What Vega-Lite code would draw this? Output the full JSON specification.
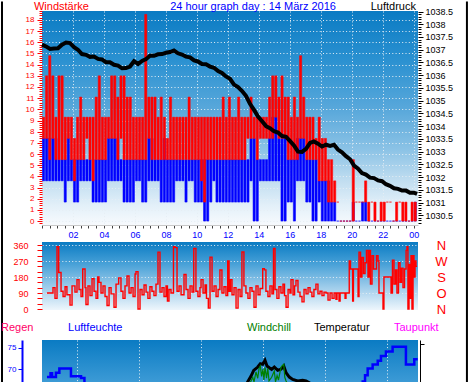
{
"$schema":"https://vega.github.io/schema/vega-lite/v6.json",
"padding":0,
"background":"#ffffff",
"spacing":17,
"bounds":"flush",
"resolve":{"scale":{"x":"independent","y":"independent"}},
"config":{"view":{"stroke":null},"font":"Liberation Sans","axis":{"labelFont":"Liberation Sans","titleFont":"Liberation Sans","labelOverlap":false,"labelFlush":false,"labelBound":false}},
"datasets":{
"wind":[
{"t":0.1,"rl":7.4,"rh":9.3,"bl":3.6,"bh":7.4},{"t":0.3,"rl":7.4,"rh":13,"bl":3.6,"bh":7.4},{"t":0.5,"rl":5.5,"rh":14.8,"bl":3.6,"bh":7.4},{"t":0.7,"rl":7.4,"rh":13,"bl":3.6,"bh":7.4},{"t":0.9,"rl":5.5,"rh":9.3,"bl":3.6,"bh":7.4},{"t":1.1,"rl":5.5,"rh":13,"bl":3.6,"bh":5.5},{"t":1.3,"rl":5.5,"rh":13,"bl":3.6,"bh":5.5},{"t":1.5,"rl":5.5,"rh":9.3,"bl":1.7,"bh":5.5},{"t":1.7,"rl":7.4,"rh":9.3,"bl":3.6,"bh":7.4},{"t":1.9,"rl":5.5,"rh":9.3,"bl":3.6,"bh":5.5},
{"t":2.1,"rl":3.6,"rh":7.4,"bl":1.7,"bh":5.5},{"t":2.3,"rl":5.5,"rh":9.3,"bl":1.7,"bh":5.5},{"t":2.5,"rl":5.5,"rh":11.1,"bl":3.6,"bh":5.5},{"t":2.7,"rl":5.5,"rh":9.3,"bl":3.6,"bh":5.5},{"t":2.9,"rl":7.4,"rh":9.3,"bl":3.6,"bh":5.5},{"t":3.1,"rl":5.5,"rh":9.3,"bl":3.6,"bh":5.5},{"t":3.3,"rl":3.6,"rh":9.3,"bl":1.7,"bh":5.5},{"t":3.5,"rl":5.5,"rh":11.1,"bl":1.7,"bh":5.5},{"t":3.7,"rl":5.5,"rh":13,"bl":1.7,"bh":5.5},{"t":3.9,"rl":5.5,"rh":9.3,"bl":1.7,"bh":5.5},
{"t":4.1,"rl":5.5,"rh":9.3,"bl":1.7,"bh":5.5},{"t":4.3,"rl":7.4,"rh":9.3,"bl":3.6,"bh":7.4},{"t":4.5,"rl":7.4,"rh":13,"bl":3.6,"bh":7.4},{"t":4.7,"rl":7.4,"rh":13,"bl":3.6,"bh":7.4},{"t":4.9,"rl":5.5,"rh":11.1,"bl":3.6,"bh":7.4},{"t":5.1,"rl":7.4,"rh":13,"bl":3.6,"bh":5.5},{"t":5.3,"rl":5.5,"rh":13,"bl":1.7,"bh":5.5},{"t":5.5,"rl":5.5,"rh":11.1,"bl":1.7,"bh":5.5},{"t":5.7,"rl":5.5,"rh":11.1,"bl":1.7,"bh":5.5},{"t":5.9,"rl":5.5,"rh":9.3,"bl":1.7,"bh":5.5},
{"t":6.1,"rl":5.5,"rh":9.3,"bl":3.6,"bh":5.5},{"t":6.3,"rl":5.5,"rh":9.3,"bl":3.6,"bh":5.5},{"t":6.5,"rl":5.5,"rh":9.3,"bl":1.7,"bh":5.5},{"t":6.7,"rl":5.5,"rh":18.5,"bl":1.7,"bh":5.5},{"t":6.9,"rl":7.4,"rh":11.1,"bl":3.6,"bh":7.4},{"t":7.1,"rl":5.5,"rh":11.1,"bl":3.6,"bh":7.4},{"t":7.3,"rl":5.5,"rh":11.1,"bl":3.6,"bh":5.5},{"t":7.5,"rl":5.5,"rh":9.3,"bl":3.6,"bh":5.5},{"t":7.7,"rl":5.5,"rh":11.1,"bl":1.7,"bh":5.5},{"t":7.9,"rl":5.5,"rh":9.3,"bl":1.7,"bh":7.4},
{"t":8.1,"rl":5.5,"rh":7.4,"bl":1.7,"bh":5.5},{"t":8.3,"rl":5.5,"rh":11.1,"bl":1.7,"bh":5.5},{"t":8.5,"rl":5.5,"rh":9.3,"bl":1.7,"bh":5.5},{"t":8.7,"rl":5.5,"rh":9.3,"bl":3.6,"bh":5.5},{"t":8.9,"rl":5.5,"rh":9.3,"bl":3.6,"bh":5.5},{"t":9.1,"rl":5.5,"rh":9.3,"bl":3.6,"bh":5.5},{"t":9.3,"rl":5.5,"rh":9.3,"bl":1.7,"bh":5.5},{"t":9.5,"rl":5.5,"rh":11.1,"bl":3.6,"bh":5.5},{"t":9.7,"rl":5.5,"rh":9.3,"bl":3.6,"bh":5.5},{"t":9.9,"rl":5.5,"rh":9.3,"bl":1.7,"bh":5.5},
{"t":10.1,"rl":5.5,"rh":9.3,"bl":1.7,"bh":5.5},{"t":10.3,"rl":3.6,"rh":9.3,"bl":1.7,"bh":5.5},{"t":10.5,"rl":1.7,"rh":9.3,"bl":0,"bh":5.5},{"t":10.7,"rl":5.5,"rh":9.3,"bl":0,"bh":5.5},{"t":10.9,"rl":5.5,"rh":9.3,"bl":1.7,"bh":5.5},{"t":11.1,"rl":5.5,"rh":9.3,"bl":3.6,"bh":5.5},{"t":11.3,"rl":5.5,"rh":9.3,"bl":1.7,"bh":5.5},{"t":11.5,"rl":5.5,"rh":9.3,"bl":1.7,"bh":5.5},{"t":11.7,"rl":5.5,"rh":11.1,"bl":1.7,"bh":5.5},{"t":11.9,"rl":5.5,"rh":9.3,"bl":1.7,"bh":5.5},
{"t":12.1,"rl":5.5,"rh":11.1,"bl":1.7,"bh":5.5},{"t":12.3,"rl":5.5,"rh":9.3,"bl":1.7,"bh":5.5},{"t":12.5,"rl":5.5,"rh":9.3,"bl":1.7,"bh":5.5},{"t":12.7,"rl":5.5,"rh":11.1,"bl":1.7,"bh":5.5},{"t":12.9,"rl":5.5,"rh":9.3,"bl":1.7,"bh":5.5},{"t":13.1,"rl":5.5,"rh":9.3,"bl":1.7,"bh":5.5},{"t":13.3,"rl":7.4,"rh":9.3,"bl":1.7,"bh":5.5},{"t":13.5,"rl":7.4,"rh":11.1,"bl":3.6,"bh":7.4},{"t":13.7,"rl":7.4,"rh":9.3,"bl":0,"bh":7.4},{"t":13.9,"rl":5.5,"rh":9.3,"bl":0,"bh":5.5},
{"t":14.1,"rl":7.4,"rh":9.3,"bl":3.6,"bh":5.5},{"t":14.3,"rl":7.4,"rh":9.3,"bl":3.6,"bh":5.5},{"t":14.5,"rl":7.4,"rh":9.3,"bl":3.6,"bh":5.5},{"t":14.7,"rl":7.4,"rh":11.1,"bl":3.6,"bh":7.4},{"t":14.9,"rl":7.4,"rh":13,"bl":3.6,"bh":9.3},{"t":15.1,"rl":9.3,"rh":13,"bl":3.6,"bh":9.3},{"t":15.3,"rl":7.4,"rh":11.1,"bl":3.6,"bh":7.4},{"t":15.5,"rl":7.4,"rh":13,"bl":0,"bh":7.4},{"t":15.7,"rl":7.4,"rh":11.1,"bl":0,"bh":7.4},{"t":15.9,"rl":5.5,"rh":11.1,"bl":1.7,"bh":5.5},
{"t":16.1,"rl":5.5,"rh":9.3,"bl":1.7,"bh":5.5},{"t":16.3,"rl":5.5,"rh":11.1,"bl":0,"bh":5.5},{"t":16.5,"rl":5.5,"rh":9.3,"bl":3.6,"bh":7.4},{"t":16.7,"rl":7.4,"rh":14.8,"bl":3.6,"bh":7.4},{"t":16.9,"rl":7.4,"rh":11.1,"bl":3.6,"bh":7.4},{"t":17.1,"rl":5.5,"rh":9.3,"bl":1.7,"bh":5.5},{"t":17.3,"rl":5.5,"rh":9.3,"bl":1.7,"bh":5.5},{"t":17.5,"rl":5.5,"rh":9.3,"bl":0,"bh":5.5},{"t":17.7,"rl":5.5,"rh":7.4,"bl":0,"bh":5.5},{"t":17.9,"rl":3.6,"rh":9.3,"bl":1.7,"bh":3.6},
{"t":18.1,"rl":3.6,"rh":7.4,"bl":0,"bh":3.6},{"t":18.3,"rl":3.6,"rh":7.4,"bl":0,"bh":3.6},{"t":18.5,"rl":1.7,"rh":5.5,"bl":0,"bh":3.6},{"t":18.7,"rl":1.7,"rh":5.5,"bl":0,"bh":1.7},{"t":18.9,"rl":1.7,"rh":3.6,"bl":0,"bh":1.7},{"t":19.1,"rl":1.7,"rh":1.7,"bl":0,"bh":0},{"t":19.3,"rl":0,"rh":0,"bl":0,"bh":0},{"t":19.5,"rl":0,"rh":0,"bl":0,"bh":0},{"t":19.7,"rl":0,"rh":0,"bl":0,"bh":0},{"t":19.9,"rl":0,"rh":0,"bl":0,"bh":0},
{"t":20.1,"rl":0,"rh":5.5,"bl":0,"bh":1.7},{"t":20.3,"rl":1.7,"rh":1.7,"bl":0,"bh":0},{"t":20.5,"rl":1.7,"rh":1.7,"bl":0,"bh":0},{"t":20.7,"rl":1.7,"rh":1.7,"bl":0,"bh":1.7},{"t":20.9,"rl":1.7,"rh":3.6,"bl":0,"bh":1.7},{"t":21.1,"rl":0,"rh":1.7,"bl":0,"bh":0},{"t":21.3,"rl":1.7,"rh":1.7,"bl":0,"bh":0},{"t":21.5,"rl":0,"rh":1.7,"bl":0,"bh":0},{"t":21.7,"rl":0,"rh":0,"bl":0,"bh":0},{"t":21.9,"rl":0,"rh":1.7,"bl":0,"bh":0},
{"t":22.1,"rl":0,"rh":1.7,"bl":0,"bh":0},{"t":22.3,"rl":1.7,"rh":1.7,"bl":0,"bh":0},{"t":22.5,"rl":1.7,"rh":1.7,"bl":0,"bh":0},{"t":22.7,"rl":0,"rh":0,"bl":0,"bh":0},{"t":22.9,"rl":0,"rh":1.7,"bl":0,"bh":0},{"t":23.1,"rl":1.7,"rh":1.7,"bl":0,"bh":0},{"t":23.3,"rl":0,"rh":1.7,"bl":0,"bh":0},{"t":23.5,"rl":0,"rh":1.7,"bl":0,"bh":0},{"t":23.7,"rl":0,"rh":0,"bl":0,"bh":0},{"t":23.9,"rl":0,"rh":1.7,"bl":0,"bh":0},
{"t":24.1,"rl":0,"rh":1.7,"bl":0,"bh":1.7}
],
"pres":[
{"t":0,"p":1037.2},{"t":0.26,"p":1037.13},{"t":0.52,"p":1037.03},{"t":0.77,"p":1037.05},{"t":1.03,"p":1037.06},{"t":1.29,"p":1037.2},{"t":1.55,"p":1037.28},{"t":1.81,"p":1037.26},{"t":2.07,"p":1037.1},{"t":2.32,"p":1037.0},
{"t":2.58,"p":1036.83},{"t":2.84,"p":1036.8},{"t":3.1,"p":1036.72},{"t":3.36,"p":1036.73},{"t":3.62,"p":1036.64},{"t":3.87,"p":1036.62},{"t":4.13,"p":1036.51},{"t":4.39,"p":1036.51},{"t":4.65,"p":1036.41},{"t":4.91,"p":1036.38},
{"t":5.17,"p":1036.27},{"t":5.42,"p":1036.28},{"t":5.68,"p":1036.34},{"t":5.94,"p":1036.55},{"t":6.2,"p":1036.44},{"t":6.46,"p":1036.56},{"t":6.72,"p":1036.63},{"t":6.97,"p":1036.76},{"t":7.23,"p":1036.76},{"t":7.49,"p":1036.82},
{"t":7.75,"p":1036.83},{"t":8.01,"p":1036.88},{"t":8.27,"p":1036.91},{"t":8.52,"p":1036.97},{"t":8.78,"p":1036.86},{"t":9.04,"p":1036.81},{"t":9.3,"p":1036.73},{"t":9.56,"p":1036.7},{"t":9.82,"p":1036.58},{"t":10.07,"p":1036.54},
{"t":10.33,"p":1036.44},{"t":10.59,"p":1036.43},{"t":10.85,"p":1036.34},{"t":11.11,"p":1036.29},{"t":11.37,"p":1036.16},{"t":11.62,"p":1036.09},{"t":11.88,"p":1035.95},{"t":12.14,"p":1035.86},{"t":12.4,"p":1035.63},{"t":12.66,"p":1035.53},
{"t":12.92,"p":1035.38},{"t":13.17,"p":1035.19},{"t":13.43,"p":1034.88},{"t":13.69,"p":1034.64},{"t":13.95,"p":1034.38},{"t":14.21,"p":1034.19},{"t":14.47,"p":1034.0},{"t":14.72,"p":1033.92},{"t":14.98,"p":1033.8},{"t":15.24,"p":1033.75},
{"t":15.5,"p":1033.61},{"t":15.76,"p":1033.58},{"t":16.02,"p":1033.41},{"t":16.27,"p":1033.24},{"t":16.53,"p":1033.0},{"t":16.79,"p":1032.99},{"t":17.05,"p":1033.11},{"t":17.31,"p":1033.34},{"t":17.56,"p":1033.4},{"t":17.82,"p":1033.31},
{"t":18.08,"p":1033.2},{"t":18.34,"p":1033.27},{"t":18.6,"p":1033.22},{"t":18.86,"p":1033.27},{"t":19.11,"p":1033.08},{"t":19.37,"p":1032.97},{"t":19.63,"p":1032.82},{"t":19.89,"p":1032.7},{"t":20.15,"p":1032.45},{"t":20.41,"p":1032.33},
{"t":20.66,"p":1032.16},{"t":20.92,"p":1032.1},{"t":21.18,"p":1031.98},{"t":21.44,"p":1031.96},{"t":21.7,"p":1031.87},{"t":21.96,"p":1031.84},{"t":22.21,"p":1031.72},{"t":22.47,"p":1031.66},{"t":22.73,"p":1031.56},{"t":22.99,"p":1031.54},
{"t":23.25,"p":1031.47},{"t":23.51,"p":1031.47},{"t":23.76,"p":1031.39},{"t":24.02,"p":1031.39},{"t":24.22,"p":1031.34}
],
"dir":[
{"t":0.32,"d":90},{"t":0.52,"d":90},{"t":0.71,"d":120},{"t":0.84,"d":60},{"t":0.97,"d":350},{"t":1.08,"d":205},{"t":1.23,"d":100},{"t":1.36,"d":70},{"t":1.49,"d":125},{"t":1.61,"d":80},
{"t":1.81,"d":22},{"t":1.94,"d":130},{"t":2.13,"d":95},{"t":2.26,"d":165},{"t":2.39,"d":110},{"t":2.52,"d":70},{"t":2.63,"d":225},{"t":2.78,"d":120},{"t":2.84,"d":25},{"t":2.97,"d":130},
{"t":3.1,"d":75},{"t":3.23,"d":170},{"t":3.36,"d":100},{"t":3.49,"d":60},{"t":3.6,"d":180},{"t":3.68,"d":150},{"t":3.81,"d":90},{"t":3.94,"d":130},{"t":4.07,"d":70},{"t":4.2,"d":20},
{"t":4.33,"d":120},{"t":4.46,"d":85},{"t":4.65,"d":10},{"t":4.78,"d":140},{"t":4.95,"d":175},{"t":5.1,"d":100},{"t":5.23,"d":60},{"t":5.36,"d":130},{"t":5.49,"d":186},{"t":5.62,"d":90},
{"t":5.75,"d":120},{"t":5.88,"d":70},{"t":6.01,"d":197},{"t":6.07,"d":210},{"t":6.2,"d":0},{"t":6.33,"d":110},{"t":6.46,"d":80},{"t":6.59,"d":135},{"t":6.72,"d":95},{"t":6.84,"d":60},
{"t":6.97,"d":125},{"t":7.1,"d":100},{"t":7.23,"d":75},{"t":7.36,"d":140},{"t":7.49,"d":320},{"t":7.62,"d":95},{"t":7.75,"d":120},{"t":7.88,"d":70},{"t":8.01,"d":130},{"t":8.1,"d":45},
{"t":8.2,"d":110},{"t":8.33,"d":90},{"t":8.49,"d":350},{"t":8.59,"d":345},{"t":8.72,"d":100},{"t":8.85,"d":130},{"t":8.98,"d":80},{"t":9.17,"d":194},{"t":9.3,"d":110},{"t":9.43,"d":60},
{"t":9.56,"d":130},{"t":9.69,"d":95},{"t":9.8,"d":340},{"t":9.94,"d":100},{"t":10.07,"d":70},{"t":10.2,"d":120},{"t":10.27,"d":165},{"t":10.4,"d":90},{"t":10.53,"d":135},{"t":10.62,"d":60},
{"t":10.74,"d":5},{"t":10.85,"d":292},{"t":10.98,"d":100},{"t":11.11,"d":130},{"t":11.24,"d":70},{"t":11.37,"d":110},{"t":11.49,"d":219},{"t":11.62,"d":90},{"t":11.75,"d":125},{"t":11.88,"d":75},
{"t":11.99,"d":270},{"t":12.08,"d":100},{"t":12.17,"d":165},{"t":12.27,"d":80},{"t":12.4,"d":120},{"t":12.53,"d":5},{"t":12.66,"d":110},{"t":12.79,"d":70},{"t":12.91,"d":321},{"t":13.04,"d":130},
{"t":13.17,"d":90},{"t":13.3,"d":60},{"t":13.43,"d":120},{"t":13.56,"d":100},{"t":13.69,"d":10},{"t":13.82,"d":130},{"t":13.95,"d":80},{"t":14.08,"d":115},{"t":14.25,"d":227},{"t":14.36,"d":220},
{"t":14.46,"d":100},{"t":14.59,"d":70},{"t":14.72,"d":130},{"t":14.85,"d":85},{"t":14.95,"d":340},{"t":15.05,"d":110},{"t":15.17,"d":60},{"t":15.3,"d":125},{"t":15.43,"d":90},{"t":15.56,"d":140},
{"t":15.66,"d":75},{"t":15.76,"d":10},{"t":15.89,"d":110},{"t":16.01,"d":90},{"t":16.08,"d":165},{"t":16.21,"d":80},{"t":16.31,"d":130},{"t":16.4,"d":160},{"t":16.53,"d":95},{"t":16.66,"d":70},
{"t":16.79,"d":40},{"t":16.92,"d":110},{"t":17.05,"d":85},{"t":17.18,"d":120},{"t":17.31,"d":95},{"t":17.43,"d":70},{"t":17.56,"d":110},{"t":17.69,"d":140},{"t":17.82,"d":85},{"t":17.95,"d":100},
{"t":18.08,"d":75},{"t":18.21,"d":95},{"t":18.34,"d":90},{"t":18.47,"d":50},{"t":18.6,"d":90},{"t":18.73,"d":60},{"t":18.86,"d":90},{"t":18.98,"d":55},{"t":19.05,"d":90},{"t":19.18,"d":45},
{"t":19.25,"d":90},{"t":19.57,"d":60},{"t":19.63,"d":90},{"t":19.84,"d":270},{"t":19.92,"d":225},{"t":20.06,"d":45},{"t":20.11,"d":225},{"t":20.41,"d":70},{"t":20.47,"d":320},{"t":20.57,"d":180},
{"t":20.66,"d":290},{"t":20.76,"d":200},{"t":20.86,"d":260},{"t":20.95,"d":330},{"t":21.05,"d":180},{"t":21.12,"d":330},{"t":21.21,"d":140},{"t":21.31,"d":300},{"t":21.41,"d":225},{"t":21.6,"d":300},
{"t":21.7,"d":270},{"t":21.76,"d":90},{"t":22.02,"d":0},{"t":22.08,"d":180},{"t":22.54,"d":90},{"t":22.63,"d":275},{"t":22.73,"d":140},{"t":22.83,"d":220},{"t":22.92,"d":90},{"t":23.02,"d":260},
{"t":23.12,"d":150},{"t":23.21,"d":230},{"t":23.31,"d":120},{"t":23.41,"d":225},{"t":23.51,"d":330},{"t":23.57,"d":350},{"t":23.63,"d":0},{"t":23.7,"d":250},{"t":23.76,"d":60},{"t":23.83,"d":300},
{"t":23.89,"d":0},{"t":23.96,"d":300},{"t":24.02,"d":180},{"t":24.09,"d":270},{"t":24.15,"d":240},{"t":24.22,"d":240}
],
"hum":[
{"t":0.03,"h":68.2},{"t":0.26,"h":69.1},{"t":0.36,"h":68.2},{"t":0.61,"h":69.2},{"t":0.83,"h":70.2},{"t":1.58,"h":68.4},{"t":2.23,"h":68.0},{"t":2.45,"h":64},{"t":4.81,"h":60},{"t":9.98,"h":52},
{"t":15.14,"h":50},{"t":19.02,"h":58},{"t":20.18,"h":64},{"t":20.42,"h":67.2},{"t":20.57,"h":68.6},{"t":20.74,"h":70.2},{"t":21.06,"h":71.1},{"t":21.39,"h":72.0},{"t":21.6,"h":73.1},{"t":21.92,"h":74.1},
{"t":22.35,"h":75.2},{"t":23.21,"h":71.1},{"t":23.75,"h":72.3},{"t":23.97,"h":72.3}
],
"temp":[
{"t":-0.29,"v":3.0},{"t":6.75,"v":5.0},{"t":11.91,"v":6.0},{"t":12.82,"v":6.5},{"t":12.95,"v":6.67},{"t":13.21,"v":7.44},{"t":13.38,"v":8.07},{"t":13.64,"v":8.44},{"t":13.81,"v":8.81},{"t":13.96,"v":8.74},
{"t":14.11,"v":9.19},{"t":14.24,"v":8.56},{"t":14.39,"v":8.37},{"t":14.54,"v":8.19},{"t":14.71,"v":8.44},{"t":14.93,"v":8.07},{"t":15.14,"v":8.19},{"t":15.32,"v":8.56},{"t":15.47,"v":7.81},{"t":15.68,"v":7.33},
{"t":15.9,"v":7.07},{"t":16.22,"v":6.89},{"t":16.54,"v":6.96},{"t":16.76,"v":6.89},{"t":16.97,"v":6.7},{"t":17.21,"v":6.4},{"t":19.02,"v":5.5},{"t":23.92,"v":4.0}
],
"chill":[
{"t":12.95,"v":6.0},{"t":13.21,"v":6.9},{"t":13.32,"v":7.3},{"t":13.4,"v":6.8},{"t":13.53,"v":7.9},{"t":13.64,"v":7.2},{"t":13.73,"v":8.3},{"t":13.81,"v":8.56},{"t":13.89,"v":7.4},{"t":13.98,"v":8.2},
{"t":14.04,"v":7.0},{"t":14.11,"v":8.4},{"t":14.21,"v":7.2},{"t":14.29,"v":8.3},{"t":14.37,"v":6.9},{"t":14.54,"v":7.3},{"t":14.71,"v":8.0},{"t":14.79,"v":6.8},{"t":14.89,"v":7.5},{"t":14.98,"v":7.0},
{"t":15.08,"v":7.9},{"t":15.17,"v":8.5},{"t":15.32,"v":8.74},{"t":15.39,"v":7.3},{"t":15.47,"v":6.9},{"t":15.56,"v":6.6},{"t":15.8,"v":6.0}
]
},
"vconcat":[
{
"width":376,"height":214,
"view":{"fill":{"gradient":"linear","x1":0,"y1":0,"x2":0,"y2":1,"stops":[{"offset":0,"color":"#0a7bc3"},{"offset":0.23,"color":"#2b91d1"},{"offset":0.47,"color":"#5ba9db"},{"offset":0.65,"color":"#8cc3e6"},{"offset":0.79,"color":"#c0ddf0"},{"offset":0.91,"color":"#e3f0f9"},{"offset":1,"color":"#f7fafd"}]},"stroke":null},
"layer":[
{"layer":[
{"data":{"name":"wind"},
"mark":{"type":"bar","width":2.2,"color":"#0000ff","stroke":"#0000ff","strokeWidth":0.5},
"encoding":{
"x":{"field":"t","type":"quantitative","scale":{"domain":[0,24.28],"nice":false,"zero":false,"padding":0},
"axis":{"orient":"bottom","title":null,"tickCount":48,"domain":true,"domainColor":"#c8c8c8","tickColor":"#404040","tickSize":3,"labelColor":"#0000ff","labelFontSize":9,"labelPadding":2,
"labelExpr":"datum.value > 0 && datum.value % 2 == 0 ? ((datum.value % 24) < 10 ? '0' : '') + (datum.value % 24) : ''",
"grid":true,"gridColor":"#e6eef4","gridDash":[1,2.3],"gridOpacity":{"condition":{"test":"datum.value > 0 && datum.value % 2 == 0","value":1},"value":0}}},
"y":{"field":"bl","type":"quantitative","scale":{"domain":[-0.35,18.8],"nice":false,"zero":false,"padding":0},
"axis":{"orient":"left","title":null,"tickCount":96,"domain":false,"tickColor":"#ff0000",
"tickSize":{"condition":{"test":"abs(datum.value - round(datum.value)) < 0.01","value":5},"value":3},
"labelColor":"#ff0000","labelFontSize":8,"labelPadding":3,
"labelExpr":"abs(datum.value - round(datum.value)) < 0.01 && datum.value >= 0 ? '' + round(datum.value) : ''",
"grid":true,"gridColor":"#e6eef4","gridDash":[1,2.3],"gridOpacity":{"condition":{"test":"abs(datum.value - round(datum.value)) < 0.01 && datum.value >= 0","value":1},"value":0}}},
"y2":{"field":"bh"}
}},
{"data":{"name":"wind"},
"mark":{"type":"bar","width":2.2,"color":"#ff0000","stroke":"#ff0000","strokeWidth":0.5},
"encoding":{
"x":{"field":"t","type":"quantitative","scale":{"domain":[0,24.28],"nice":false,"zero":false,"padding":0}},
"y":{"field":"rl","type":"quantitative","scale":{"domain":[-0.35,18.8],"nice":false,"zero":false,"padding":0}},
"y2":{"field":"rh"}
}},
{"data":{"values":[{}]},
"mark":{"type":"text","align":"left","baseline":"alphabetic","fontSize":11,"font":"Liberation Sans","color":"#ff0000"},
"encoding":{"x":{"datum":-0.52,"type":"quantitative","scale":{"domain":[0,24.28],"nice":false,"zero":false,"padding":0}},"y":{"datum":18.89,"type":"quantitative","scale":{"domain":[-0.35,18.8],"nice":false,"zero":false,"padding":0}},"text":{"value":"Windstärke"}}},
{"data":{"values":[{}]},
"mark":{"type":"text","align":"center","baseline":"alphabetic","fontSize":11,"font":"Liberation Sans","color":"#0000ff"},
"encoding":{"x":{"datum":13.63,"type":"quantitative","scale":{"domain":[0,24.28],"nice":false,"zero":false,"padding":0}},"y":{"datum":18.89,"type":"quantitative","scale":{"domain":[-0.35,18.8],"nice":false,"zero":false,"padding":0}},"text":{"value":"24 hour graph day : 14 März 2016"}}},
{"data":{"values":[{}]},
"mark":{"type":"text","align":"right","baseline":"alphabetic","fontSize":11,"font":"Liberation Sans","color":"#000000"},
"encoding":{"x":{"datum":24.15,"type":"quantitative","scale":{"domain":[0,24.28],"nice":false,"zero":false,"padding":0}},"y":{"datum":18.89,"type":"quantitative","scale":{"domain":[-0.35,18.8],"nice":false,"zero":false,"padding":0}},"text":{"value":"Luftdruck"}}},
{"data":{"values":[{}]},
"mark":{"type":"rule","color":"#000000","strokeWidth":2},
"encoding":{"x":{"datum":-2.583,"type":"quantitative","scale":{"domain":[0,24.28],"nice":false,"zero":false,"padding":0}},"y":{"datum":19.65,"type":"quantitative","scale":{"domain":[-0.35,18.8],"nice":false,"zero":false,"padding":0}},"y2":{"datum":-14.4}}},
{"data":{"values":[{}]},
"mark":{"type":"rule","color":"#000000","strokeWidth":2},
"encoding":{"x":{"datum":27.44,"type":"quantitative","scale":{"domain":[0,24.28],"nice":false,"zero":false,"padding":0}},"y":{"datum":19.65,"type":"quantitative","scale":{"domain":[-0.35,18.8],"nice":false,"zero":false,"padding":0}},"y2":{"datum":-14.4}}}
]},
{"data":{"name":"pres"},
"mark":{"type":"line","color":"#000000","strokeWidth":4},
"encoding":{
"x":{"field":"t","type":"quantitative","scale":{"domain":[0,24.28],"nice":false,"zero":false,"padding":0}},
"y":{"field":"p","type":"quantitative","scale":{"domain":[1030.12,1038.52],"nice":false,"zero":false},
"axis":{"orient":"right","title":null,"tickCount":84,"domain":false,"tickColor":"#000000",
"tickSize":{"condition":{"test":"abs(datum.value*2 - round(datum.value*2)) < 0.01","value":5},"value":3},
"labelColor":"#000000","labelFontSize":9,"labelPadding":2,
"labelExpr":"abs(datum.value*2 - round(datum.value*2)) < 0.01 ? '' + round(datum.value*10)/10 : ''","grid":false}}
}}
],
"resolve":{"scale":{"y":"independent"}}
},
{
"width":376,"height":81,
"view":{"fill":{"gradient":"linear","x1":0,"y1":0,"x2":0,"y2":1,"stops":[{"offset":0,"color":"#0a7bc3"},{"offset":0.28,"color":"#4aa2d8"},{"offset":0.55,"color":"#9ccbea"},{"offset":0.8395,"color":"#eef6fc"},{"offset":0.84,"color":"#ffffff"},{"offset":1,"color":"#ffffff"}]},"stroke":null},
"layer":[
{"data":{"name":"dir"},
"mark":{"type":"line","interpolate":"step-after","color":"#ff0000","strokeWidth":1.4},
"encoding":{
"x":{"field":"t","type":"quantitative","scale":{"domain":[0,24.28],"nice":false,"zero":false},"axis":null},
"y":{"field":"d","type":"quantitative","scale":{"domain":[-78.75,376.9],"nice":false,"zero":false},
"axis":{"orient":"left","title":null,"values":[0,30,60,90,120,150,180,210,240,270,300,330,360],"domain":false,"tickColor":"#ff0000","tickSize":5,
"labelColor":"#ff0000","labelFontSize":9,"labelPadding":9,
"labelExpr":"datum.value % 90 == 0 ? datum.label : ''",
"grid":true,"gridColor":"#e6eef4","gridDash":[1,2.3],"gridOpacity":{"condition":{"test":"datum.value > 0 && datum.value % 90 == 0","value":1},"value":0}}}
}},
{"data":{"name":"dir"},
"mark":{"type":"line","interpolate":"step-after","color":"#ff0000","strokeWidth":1.4,"opacity":0},
"encoding":{
"x":{"field":"t","type":"quantitative","scale":{"domain":[0,24.28],"nice":false,"zero":false},"axis":null},
"y":{"field":"d","type":"quantitative","scale":{"domain":[-78.75,376.9],"nice":false,"zero":false},
"axis":{"orient":"right","title":null,"values":[0,90,180,270,360],"domain":false,"ticks":false,
"labelColor":"#ff0000","labelFontSize":13,"labelAlign":"center","labelPadding":23,
"labelExpr":"['N','O','S','W','N'][round(datum.value/90)]","grid":false}}
}}
],
"resolve":{"axis":{"y":"independent"}}
},
{
"width":376,"height":43,
"view":{"fill":{"gradient":"linear","x1":0,"y1":0,"x2":0,"y2":1,"stops":[{"offset":0,"color":"#0a7bc3"},{"offset":1,"color":"#3d9bd6"}]},"stroke":null},
"layer":[
{"layer":[
{"data":{"name":"hum"},
"mark":{"type":"line","interpolate":"step-after","color":"#0000ff","strokeWidth":2.5,"clip":true},
"encoding":{
"x":{"field":"t","type":"quantitative","scale":{"domain":[-0.29,23.99],"nice":false,"zero":false},
"axis":{"orient":"bottom","title":null,"values":[2,4,6,8,10,12,14,16,18,20,22],"labels":false,"ticks":false,"domain":false,"grid":true,"gridColor":"#e6eef4","gridDash":[1,2.3]}},
"y":{"field":"h","type":"quantitative","scale":{"domain":[66.83,76.78],"nice":false,"zero":false},
"axis":{"orient":"left","title":null,"values":[70,75],"offset":20,"domain":true,"domainColor":"#0000ff","domainWidth":2,"tickColor":"#0000ff","tickSize":4,"labelColor":"#0000ff","labelFontSize":8,"labelPadding":2,"grid":false}}
}},
{"data":{"values":[{}]},
"mark":{"type":"text","align":"left","baseline":"alphabetic","fontSize":11,"font":"Liberation Sans","color":"#ff0066"},
"encoding":{"x":{"datum":-2.94,"type":"quantitative","scale":{"domain":[-0.29,23.99],"nice":false,"zero":false}},"y":{"datum":78.75,"type":"quantitative","scale":{"domain":[66.83,76.78],"nice":false,"zero":false}},"text":{"value":"Regen"}}},
{"data":{"values":[{}]},
"mark":{"type":"text","align":"left","baseline":"alphabetic","fontSize":11,"font":"Liberation Sans","color":"#0000ff"},
"encoding":{"x":{"datum":1.39,"type":"quantitative","scale":{"domain":[-0.29,23.99],"nice":false,"zero":false}},"y":{"datum":78.75,"type":"quantitative","scale":{"domain":[66.83,76.78],"nice":false,"zero":false}},"text":{"value":"Luftfeuchte"}}},
{"data":{"values":[{}]},
"mark":{"type":"text","align":"left","baseline":"alphabetic","fontSize":11,"font":"Liberation Sans","color":"#008000"},
"encoding":{"x":{"datum":12.95,"type":"quantitative","scale":{"domain":[-0.29,23.99],"nice":false,"zero":false}},"y":{"datum":78.75,"type":"quantitative","scale":{"domain":[66.83,76.78],"nice":false,"zero":false}},"text":{"value":"Windchill"}}},
{"data":{"values":[{}]},
"mark":{"type":"text","align":"left","baseline":"alphabetic","fontSize":11,"font":"Liberation Sans","color":"#000000"},
"encoding":{"x":{"datum":17.27,"type":"quantitative","scale":{"domain":[-0.29,23.99],"nice":false,"zero":false}},"y":{"datum":78.75,"type":"quantitative","scale":{"domain":[66.83,76.78],"nice":false,"zero":false}},"text":{"value":"Temperatur"}}},
{"data":{"values":[{}]},
"mark":{"type":"text","align":"left","baseline":"alphabetic","fontSize":11,"font":"Liberation Sans","color":"#ff00ff"},
"encoding":{"x":{"datum":22.44,"type":"quantitative","scale":{"domain":[-0.29,23.99],"nice":false,"zero":false}},"y":{"datum":78.75,"type":"quantitative","scale":{"domain":[66.83,76.78],"nice":false,"zero":false}},"text":{"value":"Taupunkt"}}}
]},
{"layer":[
{"data":{"name":"temp"},
"mark":{"type":"line","color":"#000000","strokeWidth":3,"clip":true},
"encoding":{
"x":{"field":"t","type":"quantitative","scale":{"domain":[-0.29,23.99],"nice":false,"zero":false}},
"y":{"field":"v","type":"quantitative","scale":{"domain":[6.67,11.44],"nice":false,"zero":false},
"axis":{"orient":"right","title":null,"values":[6.71,7,8,8.74,9,10,10.78,11],"offset":2,"domain":true,"domainColor":"#000000","tickColor":"#000000","tickSize":4,
"tickOpacity":{"condition":{"test":"abs(datum.value - round(datum.value)) < 0.001","value":1},"value":0},
"labelColor":"#000000","labelFontSize":8,"labelPadding":2,
"labelExpr":"datum.value == 8 || datum.value == 10 ? datum.label : ''",
"grid":true,"gridColor":"#e6eef4","gridDash":[1,2.3],"gridOpacity":{"condition":{"test":"abs(datum.value - round(datum.value)) >= 0.001","value":1},"value":0}}}
}},
{"data":{"name":"chill"},
"mark":{"type":"line","color":"#008000","strokeWidth":1.2,"clip":true},
"encoding":{
"x":{"field":"t","type":"quantitative","scale":{"domain":[-0.29,23.99],"nice":false,"zero":false}},
"y":{"field":"v","type":"quantitative","scale":{"domain":[6.67,11.44],"nice":false,"zero":false}}
}}
]}
],
"resolve":{"scale":{"y":"independent"}}
}
]
}
